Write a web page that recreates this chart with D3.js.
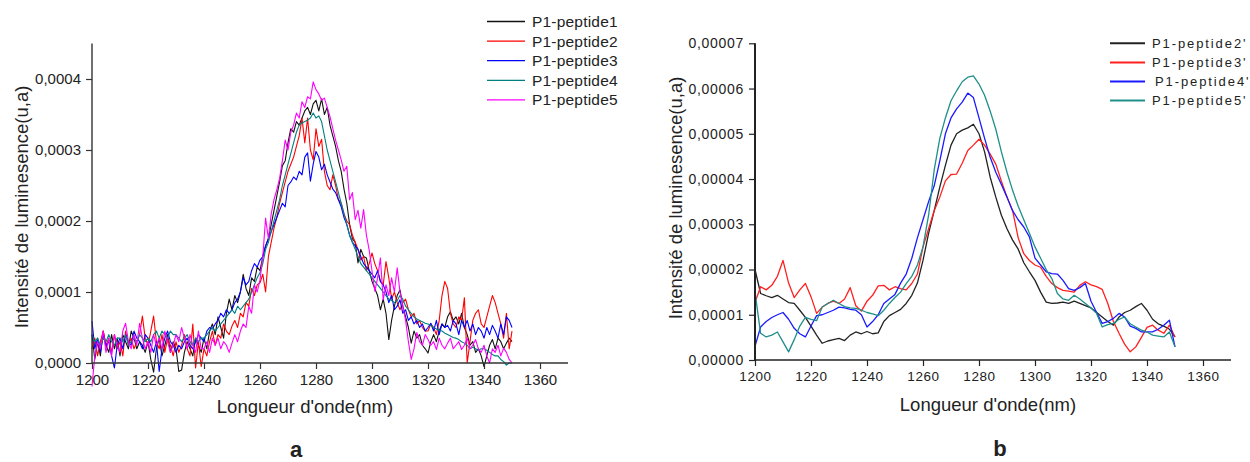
<!DOCTYPE html>
<html><head><meta charset="utf-8">
<script src="https://cdn.jsdelivr.net/npm/d3@7"></script>
<style>
body{margin:0;background:#fff}
svg{display:block}
text{font-family:"Liberation Sans",Arial,sans-serif;fill:#222}
</style>
</head><body>
<svg id="c" width="1250" height="462"></svg>
<script>
// ---------- DATA (intensities in units of 1e-6 a.u.) ----------
const wavelengthA = d3.range(1200, 1351, 1);
const namesA = ["P1-peptide1","P1-peptide2","P1-peptide3","P1-peptide4","P1-peptide5"];
const peptide1 = [
 40,5,30,10,45,25,15,40,20,35, 10,40,30,20,45,35,20,30,25,15,
 30,5,-13,20,35,10,25,40,15,30, 20,-12,-10,15,30,20,10,35,25,15,
 35,20,45,55,40,65,50,35,70,90, 75,95,85,100,125,105,95,120,115,135,
 130,150,165,175,195,215,235,255,278,285, 310,330,325,340,335,345,355,360,350,365,
 370,355,372,350,360,335,320,305,285,270, 245,225,195,175,170,141,160,150,148,130,
 115,105,95,75,90,70,33,60,80,95, 103,80,65,50,28,45,35,40,25,20,
 14,30,40,30,45,55,50,65,72,60, 65,55,70,50,40,25,30,15,20,10,
 -5,10,25,33,20,35,30,20,28,35, 30];
const peptide2 = [
 20,35,10,30,45,25,35,15,40,20, 30,10,45,25,35,20,30,40,66,35,
 25,45,66,30,20,40,15,35,25,10, 30,15,25,40,20,10,55,-7,30,-5,
 20,10,30,45,25,40,35,55,45,40, 52,60,50,70,65,85,80,105,95,110,
 113,125,100,150,170,190,205,225,240,255, 270,280,290,305,320,345,310,345,300,286,
 330,305,315,270,250,244,265,250,230,225, 210,200,195,180,170,160,145,150,130,140,
 155,140,130,115,110,143,120,90,100,85, 75,85,90,75,65,70,55,60,50,45,
 45,55,50,40,60,95,115,105,70,55, 50,65,60,92,0,30,60,70,75,55,
 50,65,80,95,85,70,55,35,70,20, 45];
const peptide3 = [
 59,20,35,15,40,25,30,10,-7,25, 35,20,40,30,25,45,35,30,20,40,
 35,25,15,30,-12,20,35,45,30,25, 15,25,20,30,35,25,20,30,40,35,
 30,45,50,48,55,60,70,65,75,70, 75,85,90,100,120,110,115,130,140,135,
 145,150,165,175,185,195,205,215,225,220, 250,255,262,258,270,265,290,296,256,280,
 298,290,272,280,265,255,245,240,230,220, 205,195,180,170,165,160,150,140,135,130,
 125,120,130,115,110,100,85,95,75,80, 89,70,75,60,65,55,60,50,55,45,
 50,56,45,60,40,55,50,53,45,60, 55,40,60,50,60,45,55,40,50,45,
 35,50,40,53,45,35,55,40,65,60, 50];
const peptide4 = [
 40,30,35,25,35,30,40,30,25,35, 35,30,40,25,30,35,30,40,35,30,
 35,30,40,45,35,45,40,35,45,40, 40,35,30,35,40,30,25,35,30,35,
 35,40,45,50,45,50,55,60,65,70, 75,70,80,75,80,85,90,100,110,120,
 127,140,160,170,185,200,215,230,250,265, 280,295,310,325,335,338,340,342,345,352,
 345,348,340,320,300,285,270,255,240,225, 210,195,180,170,160,150,140,135,130,125,
 120,115,110,105,100,95,90,88,85,88, 95,90,80,75,70,65,62,60,58,56,
 55,53,50,48,46,45,42,40,38,36, 35,33,30,28,25,20,22,20,18,20,
 20,18,15,12,10,10,5,2,-3,0, 0];
const peptide5 = [
 -33,10,30,20,45,15,35,10,40,25, 15,45,56,30,20,40,25,56,35,20,
 30,15,40,25,35,20,45,30,15,25, 40,30,50,35,20,40,25,15,45,20,
 20,30,15,35,25,35,20,30,25,15, 28,40,30,45,55,50,80,70,110,100,
 117,150,204,175,210,230,244,260,285,314, 300,325,335,352,345,368,360,375,372,396,
 385,379,370,373,360,347,330,314,300,286, 270,277,230,240,202,215,190,216,180,159,
 130,101,120,148,89,110,95,120,100,134, 100,80,60,30,5,20,43,30,25,40,
 33,25,30,19,35,25,20,28,35,20, 25,30,19,25,35,20,25,33,20,15,
 25,10,0,20,15,25,10,21,15,5, 0];
const seriesA = [peptide1, peptide2, peptide3, peptide4, peptide5];
const colorsA = ["#111111","#ff0000","#0000ff","#008080","#ff00ff"];
const yTickValsA = [0,100,200,300,400];
const yTickLabelsA = ["0,0000","0,0001","0,0002","0,0003","0,0004"];

const wavelengthB = d3.range(1200, 1351, 2);
const namesB = ["P1-peptide2'","P1-peptide3'","P1-peptide4'","P1-peptide5'"];
const peptide2b = [
 20,14.7,14.2,13.8,14.3,13.5,12.7,12.5,11,9.4,
 7.5,5.5,3.7,4.2,4.5,4.8,4.3,5.5,6.2,5.8,
 6.3,5.8,6.0,8.5,9.8,10.5,11.2,12.5,14.3,17,
 22,28,33,38.2,43,47.5,50,50.8,51.3,52.1,
 50,46,40.4,36,32,29,26.5,24.5,21.5,19.5,
 17.6,15,12.8,12.5,12.6,12.8,12.5,13,12.5,12,
 11.5,10.5,9.5,8.5,7.7,9.5,10.5,11,11.8,12.5,
 11,9,8,7.5,6.8,5.1];
const peptide3b = [
 12.7,16.2,15.5,16.5,18.5,22,17,13.8,15.5,16.9,
 14,10.3,11.7,12.5,13,12.5,13.5,16,12,10.8,
 13,14.3,16.4,16.5,15.5,16.2,15.8,15.5,16.9,19,
 25,29,33,36,39.6,41,41.1,43.5,46.3,47.5,
 48.8,47.5,45.5,43.3,39.5,36,33,27,23.5,22,
 21,20.5,18.5,16.9,16,15.4,15.2,15,16.5,17.3,
 16.6,16.2,15.6,12.5,8.5,5.9,3.5,1.8,2.9,5,
 7.2,7.7,6.6,5.9,7.7,5.1];
const peptide4b = [
 3,7.3,8.5,9.4,10,10.5,9,7,5.8,5.1,
 7.5,9.8,10,10.5,11,11.7,11.5,11.2,11,10,
 7.3,8.5,10,12.5,13.5,14.5,17,19,22.5,27,
 31,35,38.5,44,50,53.5,55.5,57,59,58,
 53.5,49,44.8,41.5,38.8,36,33,31,29.4,27.2,
 22.5,21,19.5,19.1,19,17.6,15.8,15.4,16,16.9,
 13,10.5,8.1,8.5,9.2,10.3,9.5,7.5,7,6.2,
 6.2,6.2,6.8,7.7,8.8,2.9];
const peptide5b = [
 15,5.9,5.1,5.5,6.2,4,1.8,4.5,7.5,9.4,
 9,8.7,11.7,12.5,13.2,12.5,11.8,11.5,11.4,11,
 10.5,10.2,9.8,11,12.5,13.8,15,16.9,18.5,21,
 25,32,42,49,53.5,57.3,59.5,61.5,62.5,62.8,
 61,58.5,55,51,46,41.5,37.5,34,31,28,
 25,22.5,20,18,14.7,13.5,13.2,14.3,13.5,12.5,
 11.5,10.3,7.3,7.8,8.1,9,9.5,8,7.3,6.6,
 6.2,5.5,5.3,5.1,6.2,2.9];
const seriesB = [peptide2b, peptide3b, peptide4b, peptide5b];
const colorsB = ["#222222","#ff2020","#1a1aff","#1f8f8a"];
const yTickValsB = [0,10,20,30,40,50,60,70];
const yTickLabelsB = ["0,00000","0,00001","0,00002","0,00003","0,00004","0,00005","0,00006","0,00007"];

const xMajor = d3.range(1200, 1361, 20);
const xMinor = d3.range(1210, 1371, 20);

// ---------- DRAW ----------
const svg = d3.select("#c");

function panel(cfg){
  const g = svg.append("g");
  const x = d3.scaleLinear().domain([1200,1370]).range([cfg.x0, cfg.x1]);
  const y = d3.scaleLinear().domain([0, cfg.yMax]).range([cfg.y0, cfg.y1]);

  // lines
  const line = d3.line().x((d,i)=>x(cfg.wl[i])).y(d=>y(d));
  cfg.series.forEach((s,k)=>{
    g.append("path").datum(s).attr("d", line)
      .attr("fill","none").attr("stroke", cfg.colors[k])
      .attr("stroke-width", cfg.lw).attr("stroke-linejoin","round");
  });

  // x axis minor + major
  const gx = g.append("g").attr("transform",`translate(0,${cfg.y0})`);
  gx.call(d3.axisBottom(x).tickValues(xMinor).tickSize(4).tickSizeOuter(0).tickFormat(""));
  gx.call(d3.axisBottom(x).tickValues(xMajor).tickSize(6).tickSizeOuter(0).tickPadding(5)
     .tickFormat(d3.format("d")));
  gx.selectAll("path").attr("stroke", cfg.axisColor).attr("stroke-width", cfg.xaw);
  gx.selectAll("line").attr("stroke", cfg.axisColor).attr("stroke-width", 1.2);
  gx.selectAll("text").style("font-size", cfg.xtfs).style("letter-spacing", cfg.xls).attr("fill","#222");

  // y axis
  const gy = g.append("g").attr("transform",`translate(${cfg.x0},0)`);
  gy.call(d3.axisLeft(y).tickValues(cfg.yMinor).tickSize(4).tickSizeOuter(0).tickFormat(""));
  gy.call(d3.axisLeft(y).tickValues(cfg.yTicks).tickSize(6).tickSizeOuter(0).tickPadding(5)
     .tickFormat((d,i)=>cfg.yLabels[i]));
  gy.selectAll("path").attr("stroke", cfg.axisColor).attr("stroke-width", cfg.yaw);
  gy.selectAll("line").attr("stroke", cfg.axisColor).attr("stroke-width", 1.2);
  gy.selectAll("text").style("font-size", cfg.ytfs).style("letter-spacing", cfg.yls).attr("fill","#222");
  gx.selectAll("path.domain").attr("d", `M${cfg.x0},0H${cfg.x1}`);
  gy.selectAll("path.domain").attr("d", `M0,${cfg.y0}V${cfg.y1}`);

  // titles
  g.append("text").attr("x", cfg.xtX).attr("y", cfg.xtY).attr("text-anchor","middle")
    .style("font-size", cfg.tfs).text("Longueur d'onde(nm)");
  g.append("text").attr("transform",`translate(${cfg.ytX},${cfg.ytY}) rotate(-90)`)
    .attr("text-anchor","middle").style("font-size", cfg.tfs).text("Intensité de luminesence(u,a)");

  // legend
  cfg.names.forEach((n,k)=>{
    const yy = cfg.legY + k*cfg.legDy;
    g.append("line").attr("x1",cfg.legX0).attr("x2",cfg.legX1).attr("y1",yy).attr("y2",yy)
      .attr("stroke",cfg.colors[k]).attr("stroke-width",cfg.legLw);
    g.append("text").attr("x",cfg.legTx + (cfg.legShift? cfg.legShift[k]:0)).attr("y",yy).attr("dy","0.35em")
      .style("font-size",cfg.legFs).style("letter-spacing",cfg.legLs).text(n);
  });

  // panel letter
  g.append("text").attr("x",cfg.letX).attr("y",cfg.letY).attr("text-anchor","middle")
    .style("font-size","22px").style("font-weight","bold").attr("fill","#111").text(cfg.letter);
}

panel({
  wl: wavelengthA, series: seriesA, colors: colorsA, names: namesA,
  x0: 92, x1: 568, y0: 363, y1: 43.5, yMax: 450,
  yTicks: yTickValsA, yLabels: yTickLabelsA, yMinor: [50,150,250,350,450],
  lw: 1.1, axisColor: "#333", xaw: 1.4, yaw: 1.4,
  xtfs: "15px", ytfs: "15px", xls: "0px", yls: "0px",
  tfs: "18.5px", xtX: 305, xtY: 413, ytX: 28, ytY: 207,
  legY: 21.5, legDy: 19.6, legX0: 487, legX1: 525, legTx: 532, legLw: 1.3,
  legFs: "15.5px", legLs: "0.2px",
  letter: "a", letX: 296, letY: 457
});

panel({
  wl: wavelengthB, series: seriesB, colors: colorsB, names: namesB,
  x0: 755, x1: 1231, y0: 360, y1: 43.3, yMax: 70,
  yTicks: yTickValsB, yLabels: yTickLabelsB, yMinor: [5,15,25,35,45,55,65],
  lw: 1.3, axisColor: "#222", xaw: 1.6, yaw: 2,
  xtfs: "13.5px", ytfs: "14px", xls: "0.6px", yls: "0.7px",
  tfs: "18.5px", xtX: 988, xtY: 411, ytX: 682, ytY: 198,
  legY: 43.3, legDy: 19.1, legX0: 1110, legX1: 1145, legTx: 1152, legLw: 2,
  legFs: "13px", legLs: "1.9px", legShift: [0,0,3,0],
  letter: "b", letX: 1000, letY: 456
});
</script>
</body></html>
